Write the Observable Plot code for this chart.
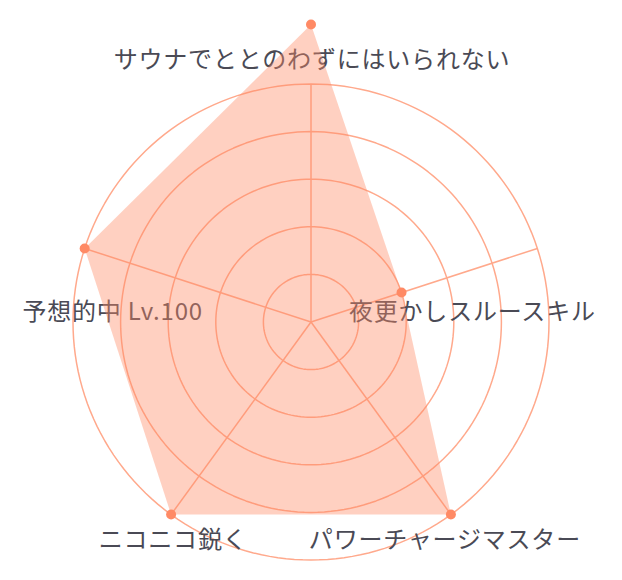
<!DOCTYPE html>
<html><head><meta charset="utf-8">
<script src="https://cdn.jsdelivr.net/npm/d3@7"></script>
<script src="https://cdn.jsdelivr.net/npm/@observablehq/plot@0.6"></script>
<style>body{margin:0;background:#fff} #chart svg{display:block} #chart text{letter-spacing:0.8px}</style>
</head><body><div id="chart"></div>
<script>
// ---- data ----
const categories = ["サウナでととのわずにはいられない", "夜更かしスルースキル", "パワーチャージマスター", "ニコニコ鋭く", "予想的中 Lv.100"];
const values = [125, 40, 100, 100, 100];
const ringLevels = [20, 40, 60, 80, 100];
const maxValue = 100;

// ---- layout / style ----
const W = 622, H = 580, cx = 310.5, cy = 321.5, pxPerUnit = 2.38;
const gridColor = "#ffa98c";
const coral = "#ff8a65";
const textColor = "#4a4a55";
// label offsets (pixels) from the end of each spoke
const labelOffsets = [[1, -23.5], [-65, 64], [-6, 26], [2, 26], [28, 64]];

const angle = i => i * 2 * Math.PI / categories.length;
const toX = (v, i) => v * Math.sin(angle(i));
const toY = (v, i) => v * Math.cos(angle(i));

const rings = ringLevels.flatMap(level => d3.range(0, 361, 2).map(deg => ({
  level, x: level * Math.sin(deg * Math.PI / 180), y: level * Math.cos(deg * Math.PI / 180)
})));
const spokes = categories.map((c, i) => ({c, x: toX(maxValue, i), y: toY(maxValue, i)}));
const points = categories.map((c, i) => ({c, v: values[i], x: toX(values[i], i), y: toY(values[i], i)}));
const labels = categories.map((c, i) => ({
  c,
  x: toX(maxValue, i) + labelOffsets[i][0] / pxPerUnit,
  y: toY(maxValue, i) - labelOffsets[i][1] / pxPerUnit
}));

const chart = Plot.plot({
  width: W, height: H, margin: 0,
  x: {domain: [-cx / pxPerUnit, (W - cx) / pxPerUnit], axis: null},
  y: {domain: [-(H - cy) / pxPerUnit, cy / pxPerUnit], axis: null},
  style: {fontFamily: "'Noto Sans CJK JP', sans-serif", background: "white"},
  marks: [
    Plot.line(rings, {x: "x", y: "y", z: "level", stroke: gridColor, strokeWidth: 1.5}),
    Plot.link(spokes, {x1: 0, y1: 0, x2: "x", y2: "y", stroke: gridColor, strokeWidth: 1.5}),
    Plot.text(labels, {x: "x", y: "y", text: "c", fontSize: 24, fill: textColor}),
    Plot.line(points, {x: "x", y: "y", fill: coral, fillOpacity: 0.4, stroke: "none", curve: "linear-closed"}),
    Plot.dot(points, {x: "x", y: "y", r: 5, fill: coral})
  ]
});
document.getElementById("chart").append(chart);
</script>
</body></html>
